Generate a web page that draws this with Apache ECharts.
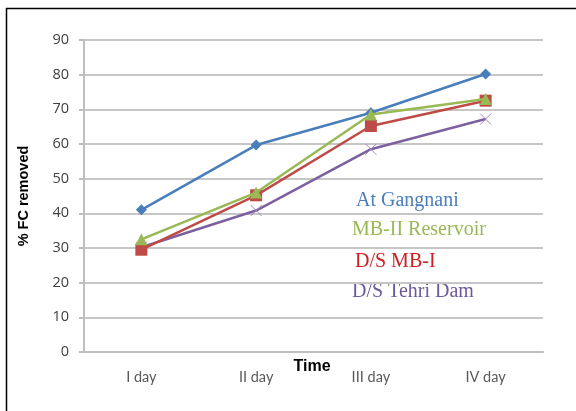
<!DOCTYPE html>
<html><head><meta charset="utf-8">
<script src="https://cdn.jsdelivr.net/npm/echarts@6/dist/echarts.min.js"></script>
<style>html,body{margin:0;padding:0;background:#fff}#c{width:576px;height:411px}</style>
</head><body><div id="c"></div>
<script>
const categories = ['I day', 'II day', 'III day', 'IV day'];
const atGangnani = [41, 59.7, 69, 80.2];
const mbIIReservoir = [32.5, 46, 68.5, 73];
const dsMBI = [29.5, 45.2, 65.2, 72.5];
const dsTehriDam = [30.2, 40.8, 58.5, 67.2];
const yTicks = [0, 10, 20, 30, 40, 50, 60, 70, 80, 90];
const seriesNames = ['At Gangnani', 'MB-II Reservoir', 'D/S MB-I', 'D/S Tehri Dam'];

const chart = echarts.init(document.getElementById('c'));
const mk = (name, data, color, symbol, size, extra) => Object.assign({
  name, type: 'line', data, symbol, symbolSize: size, showSymbol: true,
  lineStyle: { color, width: 2.5 }, itemStyle: { color },
  z: 3
}, extra || {});
const legendFont = '20px "Liberation Serif"';
chart.setOption({
  animation: false,
  grid: { left: 84, right: 33, top: 40, bottom: 59 },
  xAxis: {
    type: 'category', data: categories, boundaryGap: true,
    axisLine: { lineStyle: { color: '#bfbfbf', width: 2 } },
    axisTick: { show: false },
    axisLabel: { color: '#595959', fontSize: 14.5, margin: 18, fontFamily: 'Lato' }
  },
  yAxis: {
    type: 'value', min: yTicks[0], max: yTicks[yTicks.length - 1], interval: 10,
    axisLine: { show: true, lineStyle: { color: '#bfbfbf', width: 2 } },
    axisTick: { show: true, length: 5, lineStyle: { color: '#bfbfbf', width: 2 } },
    splitLine: { lineStyle: { color: '#c6c6c6', width: 2 } },
    axisLabel: { color: '#404040', fontSize: 14.5, margin: 15, fontFamily: 'Open Sans' },
    name: '% FC removed', nameLocation: 'middle', nameGap: 53, nameRotate: 90,
    nameTextStyle: { fontWeight: 'bold', fontSize: 14.5, color: '#000', fontFamily: 'Liberation Sans' }
  },
  series: [
    mk(seriesNames[0], atGangnani, '#4a7ebb', 'diamond', 11),
    mk(seriesNames[1], mbIIReservoir, '#98b954', 'triangle', 12, { z: 5 }),
    mk(seriesNames[2], dsMBI, '#be4b48', 'rect', 12, { z: 4 }),
    mk(seriesNames[3], dsTehriDam, '#7d60a0', 'path://M0,0L10,10M10,0L0,10', 11,
       { itemStyle: { color: 'none', borderColor: '#9d88bf', borderWidth: 1 } })
  ],
  graphic: [
    { type: 'rect', shape: { x: 6.5, y: 8.5, width: 700, height: 600 }, style: { fill: 'none', stroke: '#000', lineWidth: 1.5 }, silent: true },
    { type: 'text', x: 312, y: 367, style: { text: 'Time', fill: '#000', font: 'bold 16px "Liberation Sans"', textAlign: 'center', textVerticalAlign: 'middle' } },
    { type: 'text', x: 356, y: 201, style: { text: seriesNames[0], fill: '#4a7ebb', font: legendFont, textVerticalAlign: 'middle' } },
    { type: 'text', x: 352, y: 230, style: { text: seriesNames[1], fill: '#98b954', font: legendFont, textVerticalAlign: 'middle' } },
    { type: 'text', x: 355, y: 262, style: { text: seriesNames[2], fill: '#cc2024', font: legendFont, textVerticalAlign: 'middle' } },
    { type: 'text', x: 352, y: 292, style: { text: seriesNames[3], fill: '#6c5a9c', font: legendFont, textVerticalAlign: 'middle' } }
  ]
});
</script></body></html>
